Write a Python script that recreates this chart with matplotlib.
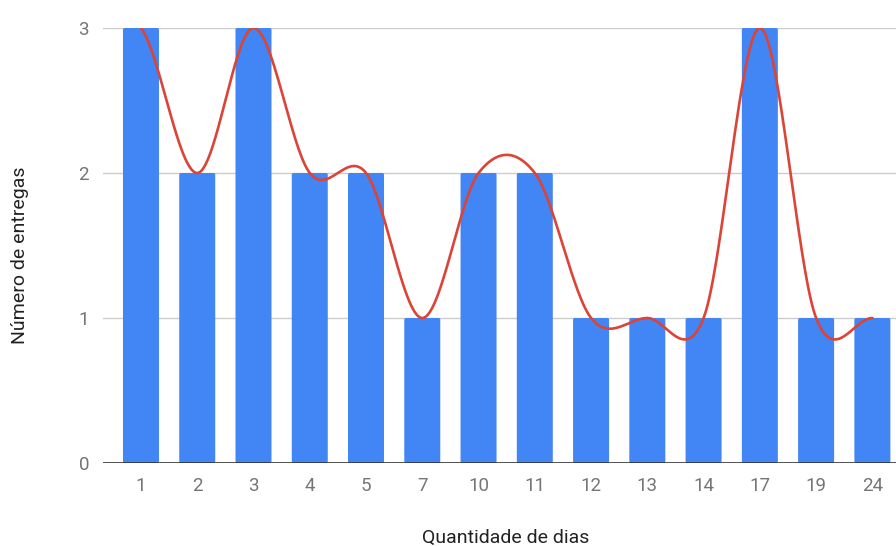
import numpy as np
import matplotlib.pyplot as plt
from matplotlib.patches import FancyBboxPatch

plt.rcParams['font.family'] = ['Roboto', 'DejaVu Sans']

# dias até a entrega e quantas entregas tiveram cada prazo
dias = ['1', '2', '3', '4', '5', '7', '10', '11', '12', '13', '14', '17', '19', '24']
entregas = [3, 2, 3, 2, 2, 1, 2, 2, 1, 1, 1, 3, 1, 1]

AZUL = '#4285f4'
VERMELHO = '#db4437'


def curva_suave(y, passos=60):
    # spline de Catmull-Rom passando pelo topo de cada barra
    y = np.asarray(y, dtype=float)
    n = len(y)
    tang = np.zeros(n)
    tang[1:-1] = (y[2:] - y[:-2]) / 2
    tang[0] = (y[1] - y[0]) / 2
    tang[-1] = (y[-1] - y[-2]) / 2
    xs, ys = [], []
    t = np.linspace(0, 1, passos)
    h00 = 2 * t**3 - 3 * t**2 + 1
    h10 = t**3 - 2 * t**2 + t
    h01 = -2 * t**3 + 3 * t**2
    h11 = t**3 - t**2
    for i in range(n - 1):
        xs.append(i + t)
        ys.append(h00 * y[i] + h10 * tang[i] + h01 * y[i + 1] + h11 * tang[i + 1])
    return np.concatenate(xs), np.concatenate(ys)


fig = plt.figure(figsize=(8.96, 5.46), dpi=100)
ax = fig.add_axes([103 / 896, 1 - 463 / 546, 793 / 896, 435 / 546])

x = np.arange(len(dias))
largura = 0.64
for xi, v in zip(x, entregas):
    ax.add_patch(FancyBboxPatch((xi - largura / 2, 0), largura, v,
                                boxstyle='round,pad=0,rounding_size=0.03',
                                mutation_aspect=3 / 435 * 56.27,
                                facecolor=AZUL, edgecolor='none', zorder=2))

cx, cy = curva_suave(entregas)
ax.plot(cx, cy, color=VERMELHO, linewidth=1.9, zorder=3, solid_capstyle='round')

ax.set_xlim(-0.675, 13.42)
ax.set_ylim(0, 3)
ax.set_xticks(x)
ax.set_xticklabels(dias)
ax.set_yticks([0, 1, 2, 3])

for v in [1, 2, 3]:
    ax.axhline(v, color='#cccccc', linewidth=1, zorder=1)
ax.axhline(0, color='#333333', linewidth=1.2, zorder=4)

for s in ax.spines.values():
    s.set_visible(False)
ax.tick_params(axis='both', length=0, labelsize=13.5, labelcolor='#757575')
ax.tick_params(axis='x', pad=10)
ax.tick_params(axis='y', pad=10)

fig.text(506 / 896, 1 - 538 / 546, 'Quantidade de dias', ha='center', va='center',
         fontsize=14, color='#222222')
fig.text(20 / 896, 1 - 255 / 546, 'Número de entregas', ha='center', va='center',
         rotation=90, fontsize=14, color='#222222')

fig.savefig('out.png', dpi=100, facecolor='white')
